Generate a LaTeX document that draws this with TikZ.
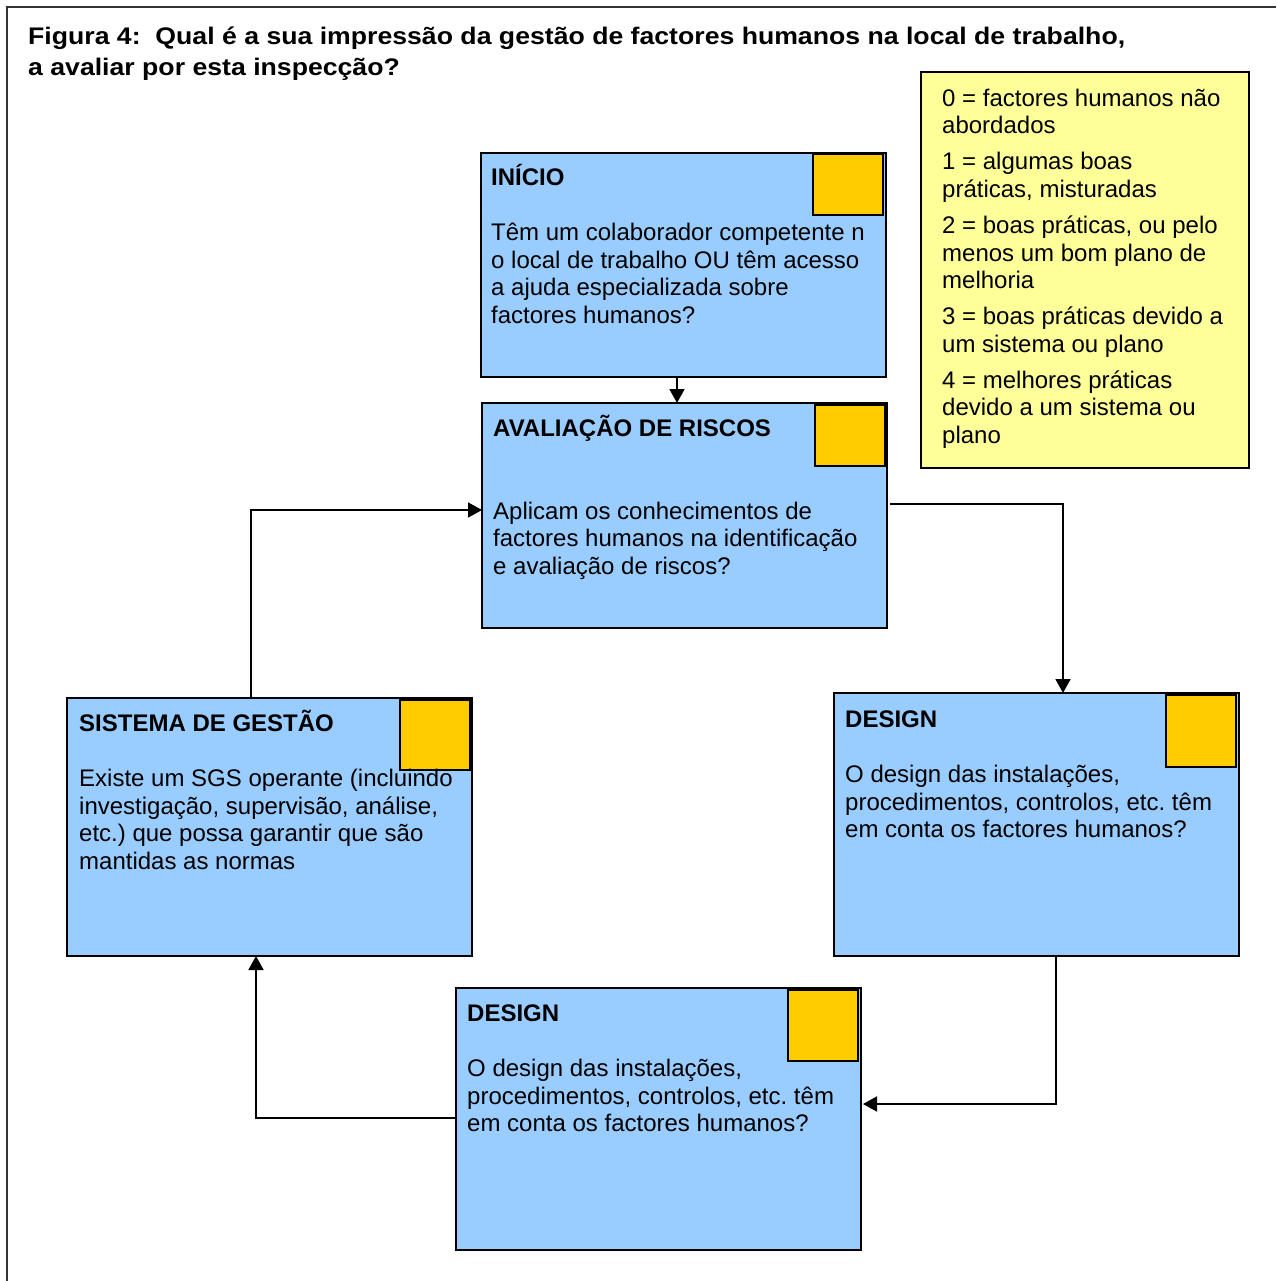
\documentclass[tikz,border=0pt]{standalone}
\usepackage{fontspec}
\setmainfont{Liberation Sans}
\newfontfamily\headingfont[FakeStretch=1.11]{Liberation Sans}
\usetikzlibrary{arrows.meta}
\definecolor{boxblue}{HTML}{99CCFF}
\definecolor{scoreorange}{HTML}{FFCC00}
\definecolor{legendyellow}{HTML}{FFFF99}

\begin{document}
\frenchspacing
\begin{tikzpicture}[x=1pt,y=-1pt,
  stage/.style={draw=black, line width=1.8pt, fill=boxblue, anchor=north west,
    inner sep=0pt, outer sep=0pt, minimum width=405, minimum height=#1},
  scorebox/.style={draw=black, line width=1.8pt, fill=scoreorange, anchor=north west,
    inner sep=0pt, outer sep=0pt, minimum width=70, minimum height=61},
  legendbox/.style={draw=black, line width=1.6pt, fill=legendyellow, anchor=north west,
    inner sep=0pt, outer sep=0pt},
  bodytext/.style={anchor=north west, inner sep=0pt, align=left,
    font=\fontsize{24}{27.6}\selectfont\frenchspacing},
  titletext/.style={anchor=north west, inner sep=0pt, align=left,
    font=\headingfont\fontsize{24}{31}\selectfont\bfseries\frenchspacing},
  flow/.style={draw=black, line width=1.8pt, -{Triangle[length=14pt,width=15pt]}},
  frame/.style={draw=black!80, line width=1.4pt}
]
\useasboundingbox (0,0) rectangle (1276,1281);
\fill[white] (0,0) rectangle (1276,1281);

% outer frame (only the left and top edges lie inside the page)
\coordinate (fbl) at (7,1281);
\coordinate (ftl) at (7,7);
\coordinate (ftr) at (1276,7);
\draw[frame] (fbl) -- (ftl) -- (ftr);

% heading
\node[titletext] (heading) at (28,20) {\rule{0pt}{24pt}Figura 4:\ \ Qual é a sua impressão da gestão de factores humanos na local de trabalho,\\
a avaliar por esta inspecção?};

% scoring legend
\node[legendbox, minimum width=328, minimum height=396] (legend) at (921,72) {};
\node[bodytext] (legendtext) at (942,82) {\rule{0pt}{24pt}0 = factores humanos não\\
abordados\\[8.4pt]
1 = algumas boas\\
práticas, misturadas\\[8.4pt]
2 = boas práticas, ou pelo\\
menos um bom plano de\\
melhoria\\[8.4pt]
3 = boas práticas devido a\\
um sistema ou plano\\[8.4pt]
4 = melhores práticas\\
devido a um sistema ou\\
plano};

% INÍCIO
\node[stage=224] (inicio) at (481,153) {};
\node[scorebox] (inicio-score) at (813,154) {};
\node[bodytext] (inicio-text) at (491,161) {\rule{0pt}{24pt}\textbf{INÍCIO}\\[27.6pt]
Têm um colaborador competente n\\
o local de trabalho OU têm acesso\\
a ajuda especializada sobre\\
factores humanos?};

% AVALIAÇÃO DE RISCOS
\node[stage=225] (risco) at (482,403) {};
\node[scorebox] (risco-score) at (815,405) {};
\node[bodytext] (risco-text) at (493,412) {\rule{0pt}{24pt}\textbf{AVALIAÇÃO DE RISCOS}\\[55.2pt]
Aplicam os conhecimentos de\\
factores humanos na identificação\\
e avaliação de riscos?};

% DESIGN (right)
\node[stage=263] (designR) at (834,693) {};
\node[scorebox, minimum height=72] (designR-score) at (1166,695) {};
\node[bodytext] (designR-text) at (845,703) {\rule{0pt}{24pt}\textbf{DESIGN}\\[27.6pt]
O design das instalações,\\
procedimentos, controlos, etc. têm\\
em conta os factores humanos?};

% DESIGN (bottom)
\node[stage=262] (designB) at (456,988) {};
\node[scorebox, minimum height=71] (designB-score) at (788,990) {};
\node[bodytext] (designB-text) at (467,997) {\rule{0pt}{24pt}\textbf{DESIGN}\\[27.6pt]
O design das instalações,\\
procedimentos, controlos, etc. têm\\
em conta os factores humanos?};

% SISTEMA DE GESTÃO
\node[stage=258] (sistema) at (67,698) {};
\node[scorebox, minimum height=70] (sistema-score) at (400,700) {};
\node[bodytext] (sistema-text) at (79,707) {\rule{0pt}{24pt}\textbf{SISTEMA DE GESTÃO}\\[27.6pt]
Existe um SGS operante (incluindo\\
investigação, supervisão, análise,\\
etc.) que possa garantir que são\\
mantidas as normas};

% flow between the stages
\draw[flow] (inicio.south -| 677,0) -- (risco.north -| 677,0);
\draw[flow] ([xshift=3pt]risco.east |- 0,504) -| (designR.north -| 1063,0);
\draw[flow] (designR.south -| 1056,0) |- ([xshift=2pt]designB.east |- 0,1104);
\draw[flow] ([xshift=-1pt]designB.west |- 0,1118) -| (sistema.south -| 256,0);
\draw[flow] (sistema.north -| 251,0) |- (risco.west |- 0,510);
\end{tikzpicture}
\end{document}
